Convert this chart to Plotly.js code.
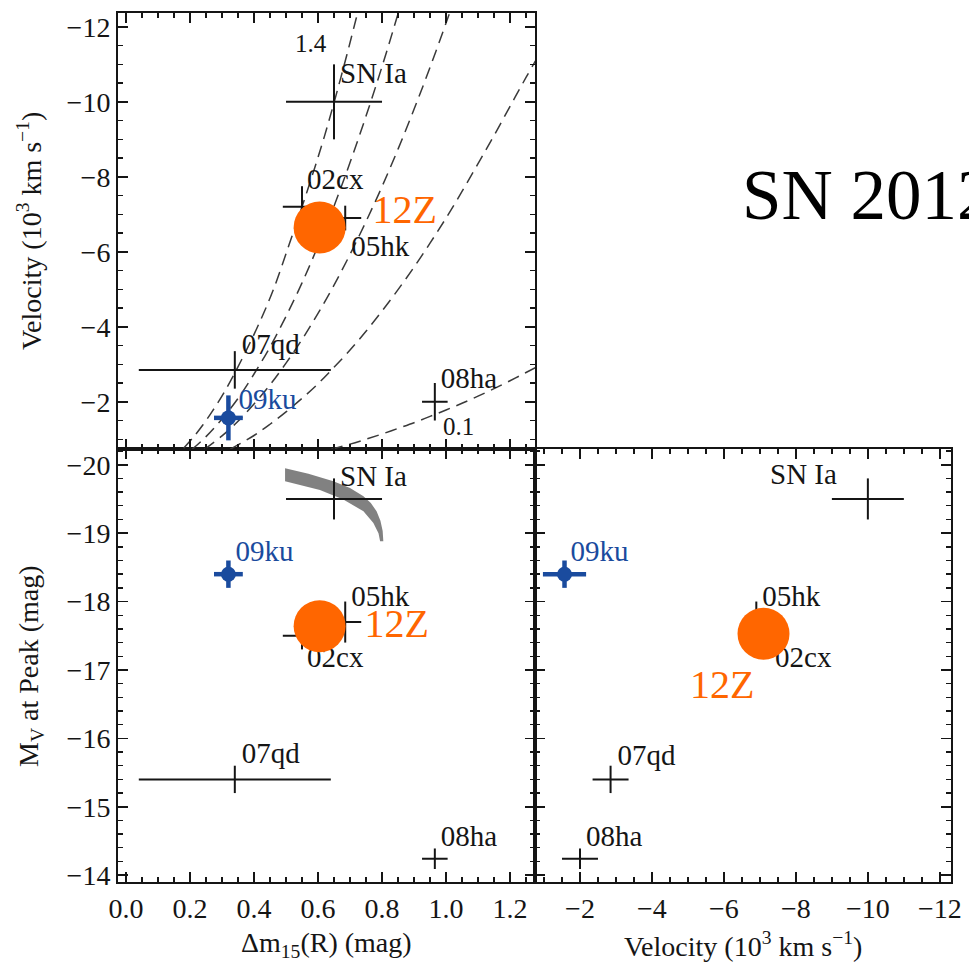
<!DOCTYPE html>
<html>
<head>
<meta charset="utf-8">
<script src="https://cdn.plot.ly/plotly-3.0.1.min.js"></script>
<style>
html, body { margin: 0; padding: 0; background: #ffffff; }
#chart { width: 969px; height: 963px; }
</style>
</head>
<body>
<div id="chart"></div>
<script>
// ---------------- data ----------------
// comparison objects (black crosses)
const snNames     = ['SN Ia', '02cx', '05hk', '07qd', '08ha'];
const dm15        = [0.65, 0.55, 0.685, 0.34, 0.965];
const dm15Err     = [0.15, 0.06, 0.05, 0.30, 0.04];
const velocity    = [-10.0, -7.2, -6.9, -2.85, -2.0];
const velocityErr = [1.0, 0.55, 0.33, 0.5, 0.5];
const peakMV      = [-19.5, -17.5, -17.7, -15.4, -14.24];
const peakMVErr   = [0.3, 0.2, 0.3, 0.2, 0.15];

// SN 2009ku (blue)
const ku09Name = ['09ku'];
const ku09Dm15 = [0.32];
const ku09Dm15Err = [0.045];
const ku09Velocity = [-1.57];
const ku09VelocityErr = [0.6];
const ku09PeakMV = [-18.4];
const ku09PeakMVErr = [0.2];

// SN 2012Z (orange circle, as placed in each panel)
const z12Name = ['12Z'];
const z12Dm15 = [0.605];
const z12VelocityTop = [-6.65];
const z12PeakMVLeft = [-17.64];
const z12VelocityRight = [-7.1];
const z12PeakMVRight = [-17.53];

// model curves, labelled by ejecta mass
const curve14Dm15 = [0.18, 0.21, 0.24, 0.27, 0.31, 0.36, 0.41, 0.46, 0.51, 0.55, 0.59, 0.62, 0.65, 0.69, 0.72, 0.735];
const curve14Vel  = [-0.76, -1.05, -1.38, -1.75, -2.3, -3.1, -3.98, -4.98, -6.2, -7.2, -8.25, -9.08, -9.98, -11.25, -12.25, -12.75];
const curve10Dm15 = [0.205, 0.25, 0.30, 0.35, 0.40, 0.45, 0.50, 0.55, 0.60, 0.65, 0.70, 0.75, 0.80, 0.85, 0.87];
const curve10Vel  = [-0.72, -1.07, -1.54, -2.09, -2.74, -3.46, -4.28, -5.17, -6.16, -7.22, -8.38, -9.62, -10.94, -12.35, -12.94];
const curve07Dm15 = [0.245, 0.30, 0.35, 0.40, 0.45, 0.50, 0.55, 0.60, 0.65, 0.70, 0.75, 0.80, 0.85, 0.90, 0.95, 1.00, 1.03];
const curve07Vel  = [-0.73, -1.09, -1.48, -1.94, -2.45, -3.03, -3.66, -4.36, -5.11, -5.93, -6.81, -7.74, -8.74, -9.80, -10.92, -12.10, -12.84];
const curve04Dm15 = [0.325, 0.40, 0.45, 0.50, 0.55, 0.60, 0.65, 0.70, 0.75, 0.80, 0.85, 0.90, 0.95, 1.00, 1.05, 1.10, 1.15, 1.20, 1.25, 1.29];
const curve04Vel  = [-0.73, -1.10, -1.40, -1.73, -2.09, -2.48, -2.92, -3.38, -3.88, -4.42, -4.99, -5.59, -6.23, -6.90, -7.61, -8.35, -9.10, -9.88, -10.65, -11.25];
const curve01Dm15 = [0.64, 0.70, 0.75, 0.80, 0.85, 0.90, 0.95, 1.00, 1.05, 1.10, 1.15, 1.20, 1.25, 1.29];
const curve01Vel  = [-0.73, -0.87, -1.00, -1.14, -1.29, -1.44, -1.61, -1.78, -1.96, -2.15, -2.35, -2.56, -2.78, -2.96];

// SN Ia width-luminosity band (grey)
const bandUpperDm15 = [0.497, 0.57, 0.648, 0.70, 0.742, 0.765, 0.783, 0.795, 0.802, 0.804];
const bandUpperMV   = [-19.95, -19.87, -19.76, -19.66, -19.54, -19.44, -19.32, -19.18, -19.03, -18.88];
const bandLowerDm15 = [0.497, 0.606, 0.679, 0.742, 0.773, 0.789, 0.794];
const bandLowerMV   = [-19.76, -19.63, -19.49, -19.32, -19.15, -19.0, -18.88];

// ---------------- geometry / style ----------------
const W = 969, H = 963;
const FONT = "'Liberation Serif', 'Times New Roman', Times, serif";
const INK = '#151515';
const BLUE = '#1a4b9e';
const ORANGE = '#ff6600';
const fx = p => p / W;
const fy = p => 1 - p / H;

const dmRange = [-0.025, 1.278];
const mvRange = [-13.9, -20.23];
const velRangeY = [-0.74, -12.37];
const velRangeX = [-0.75, -12.31];
const leftPx = [118, 535], rightPx = [535, 951];
const topPx = [13, 449], botPx = [449, 882];

const panels = {
  TL: {xa: 'x2', ya: 'y2', xr: dmRange, xl: leftPx[1] - leftPx[0], yr: velRangeY, yl: topPx[1] - topPx[0]},
  BL: {xa: 'x', ya: 'y', xr: dmRange, xl: leftPx[1] - leftPx[0], yr: mvRange, yl: botPx[1] - botPx[0]},
  BR: {xa: 'x3', ya: 'y3', xr: velRangeX, xl: rightPx[1] - rightPx[0], yr: mvRange, yl: botPx[1] - botPx[0]}
};

// label offsets in pixels (right, down) from each point
const offTL = {'SN Ia': [6, -26], '02cx': [5, -25], '05hk': [6, 31], '07qd': [7, -23], '08ha': [6, -21], '09ku': [10, -16], '12Z': [53, -14]};
const offBL = {'SN Ia': [6, -20], '02cx': [5, 24], '05hk': [6, -23], '07qd': [7, -24], '08ha': [6, -20], '09ku': [7, -20], '12Z': [45, 1]};
const offBR = {'SN Ia': [-31, -22], '02cx': [8, 24], '05hk': [6, -23], '07qd': [7, -22], '08ha': [6, -20], '09ku': [6, -20], '12Z': [-9, 54]};

function labelTrace(panel, xs, ys, names, offs, fontSize, color, posFn) {
  const P = panels[panel];
  const x = xs.map((v, i) => v + offs[names[i]][0] * (P.xr[1] - P.xr[0]) / P.xl);
  const y = ys.map((v, i) => v - offs[names[i]][1] * (P.yr[1] - P.yr[0]) / P.yl);
  return {
    type: 'scatter', mode: 'text', x: x, y: y, text: names,
    textposition: names.map(posFn),
    textfont: {family: FONT, size: fontSize, color: color},
    xaxis: P.xa, yaxis: P.ya, hoverinfo: 'skip', showlegend: false, cliponaxis: false
  };
}

function crossTrace(panel, xs, ys, ex, ey, color, thick) {
  const P = panels[panel];
  return {
    type: 'scatter', mode: 'markers', x: xs, y: ys,
    marker: {size: 1, color: 'rgba(0,0,0,0)'},
    error_x: {type: 'data', array: ex, visible: true, width: 0, thickness: thick, color: color},
    error_y: {type: 'data', array: ey, visible: true, width: 0, thickness: thick, color: color},
    xaxis: P.xa, yaxis: P.ya, hoverinfo: 'skip', showlegend: false
  };
}

function blobTrace(panel, xs, ys, ex, ey) {
  const P = panels[panel];
  return {
    type: 'scatter', mode: 'markers', x: xs, y: ys,
    marker: {size: 15, color: BLUE, symbol: 'circle', line: {width: 0}},
    error_x: {type: 'data', array: ex, visible: true, width: 0, thickness: 4.5, color: BLUE},
    error_y: {type: 'data', array: ey, visible: true, width: 0, thickness: 4.5, color: BLUE},
    xaxis: P.xa, yaxis: P.ya, hoverinfo: 'skip', showlegend: false
  };
}

function circleTrace(panel, xs, ys) {
  const P = panels[panel];
  return {
    type: 'scatter', mode: 'markers', x: xs, y: ys,
    marker: {size: 52, color: ORANGE, line: {width: 0}},
    xaxis: P.xa, yaxis: P.ya, hoverinfo: 'skip', showlegend: false
  };
}

const dashLine = {color: '#3a3a3a', width: 1.5, dash: '12px,7px', shape: 'spline'};
function curveTrace(xs, ys) {
  return {type: 'scatter', mode: 'lines', x: xs, y: ys, line: dashLine,
          xaxis: 'x2', yaxis: 'y2', hoverinfo: 'skip', showlegend: false};
}

const traces = [];
// model curves (top-left)
traces.push(curveTrace(curve14Dm15, curve14Vel));
traces.push(curveTrace(curve10Dm15, curve10Vel));
traces.push(curveTrace(curve07Dm15, curve07Vel));
traces.push(curveTrace(curve04Dm15, curve04Vel));
traces.push(curveTrace(curve01Dm15, curve01Vel));

// grey band (bottom-left)
traces.push({
  type: 'scatter', mode: 'lines',
  x: bandUpperDm15.concat(bandLowerDm15.slice().reverse()),
  y: bandUpperMV.concat(bandLowerMV.slice().reverse()),
  fill: 'toself', fillcolor: 'rgba(115,115,115,0.9)', line: {width: 0, color: 'rgba(0,0,0,0)'},
  xaxis: 'x', yaxis: 'y', hoverinfo: 'skip', showlegend: false
});

// crosses
traces.push(crossTrace('TL', dm15, velocity, dm15Err, velocityErr, INK, 2));
traces.push(crossTrace('BL', dm15, peakMV, dm15Err, peakMVErr, INK, 2));
traces.push(crossTrace('BR', velocity, peakMV, velocityErr, peakMVErr, INK, 2));

// 09ku
traces.push(blobTrace('TL', ku09Dm15, ku09Velocity, ku09Dm15Err, ku09VelocityErr));
traces.push(blobTrace('BL', ku09Dm15, ku09PeakMV, ku09Dm15Err, ku09PeakMVErr));
traces.push(blobTrace('BR', ku09Velocity, ku09PeakMV, ku09VelocityErr, ku09PeakMVErr));

// black labels
const posRight = () => 'middle right';
const posBR = n => (n === 'SN Ia' ? 'middle left' : 'middle right');
traces.push(labelTrace('TL', dm15, velocity, snNames, offTL, 29, INK, posRight));
traces.push(labelTrace('BL', dm15, peakMV, snNames, offBL, 29, INK, posRight));
traces.push(labelTrace('BR', velocity, peakMV, snNames, offBR, 29, INK, posBR));
// blue labels
traces.push(labelTrace('TL', ku09Dm15, ku09Velocity, ku09Name, offTL, 29, BLUE, posRight));
traces.push(labelTrace('BL', ku09Dm15, ku09PeakMV, ku09Name, offBL, 29, BLUE, posRight));
traces.push(labelTrace('BR', ku09Velocity, ku09PeakMV, ku09Name, offBR, 29, BLUE, posRight));

// 12Z circles and labels
traces.push(circleTrace('TL', z12Dm15, z12VelocityTop));
traces.push(circleTrace('BL', z12Dm15, z12PeakMVLeft));
traces.push(circleTrace('BR', z12VelocityRight, z12PeakMVRight));
traces.push(labelTrace('TL', z12Dm15, z12VelocityTop, z12Name, offTL, 40, ORANGE, posRight));
traces.push(labelTrace('BL', z12Dm15, z12PeakMVLeft, z12Name, offBL, 40, ORANGE, posRight));
traces.push(labelTrace('BR', z12VelocityRight, z12PeakMVRight, z12Name, offBR, 40, ORANGE, () => 'middle left'));

// ---------------- axes ----------------
function axis(extra) {
  return Object.assign({
    showline: true, linecolor: INK, linewidth: 2, mirror: 'allticks',
    ticks: 'inside', ticklen: 10, tickwidth: 1.6, tickcolor: INK,
    showgrid: false, zeroline: false, fixedrange: true,
    tickfont: {family: FONT, size: 28, color: INK},
    automargin: false
  }, extra);
}
const minorTicks = (d) => ({ticks: 'inside', ticklen: 5, tickwidth: 1.4, tickcolor: INK, dtick: d, tick0: 0, showgrid: false});

const titleFont = {family: FONT, size: 28, color: INK};

const layout = {
  width: W, height: H,
  font: {family: FONT, color: INK},
  margin: {l: 0, r: 0, t: 0, b: 0, pad: 0},
  paper_bgcolor: '#ffffff', plot_bgcolor: 'rgba(0,0,0,0)',
  showlegend: false,
  xaxis: axis({domain: [fx(leftPx[0]), fx(leftPx[1])], range: dmRange, anchor: 'y',
               tick0: 0, dtick: 0.2, tickformat: '.1f', minor: minorTicks(0.05)}),
  yaxis: axis({domain: [fy(botPx[1]), fy(botPx[0])], range: mvRange, anchor: 'x',
               tick0: 0, dtick: 1, minor: minorTicks(0.2)}),
  xaxis2: axis({domain: [fx(leftPx[0]), fx(leftPx[1])], range: dmRange, anchor: 'y2',
                tick0: 0, dtick: 0.2, showticklabels: false, minor: minorTicks(0.05)}),
  yaxis2: axis({domain: [fy(topPx[1]), fy(topPx[0])], range: velRangeY, anchor: 'x2',
                tick0: 0, dtick: 2, minor: minorTicks(0.5)}),
  xaxis3: axis({domain: [fx(rightPx[0]), fx(rightPx[1])], range: velRangeX, anchor: 'y3',
                tick0: 0, dtick: 2, minor: minorTicks(0.5)}),
  yaxis3: axis({domain: [fy(botPx[1]), fy(botPx[0])], range: mvRange, anchor: 'x3',
                tick0: 0, dtick: 1, showticklabels: false, minor: minorTicks(0.2)}),
  annotations: [
    {xref: 'paper', yref: 'paper', x: fx(29), y: fy(231), text: 'Velocity (10<sup>3</sup> km s<sup>\u22121</sup>)',
     textangle: -90, showarrow: false, xanchor: 'center', yanchor: 'middle', font: titleFont},
    {xref: 'paper', yref: 'paper', x: fx(30), y: fy(666), text: 'M<sub>V</sub> at Peak (mag)',
     textangle: -90, showarrow: false, xanchor: 'center', yanchor: 'middle', font: titleFont},
    {xref: 'paper', yref: 'paper', x: fx(326), y: fy(944), text: '\u0394m<sub>15</sub>(R) (mag)',
     showarrow: false, xanchor: 'center', yanchor: 'middle', font: titleFont},
    {xref: 'paper', yref: 'paper', x: fx(743), y: fy(944), text: 'Velocity (10<sup>3</sup> km s<sup>\u22121</sup>)',
     showarrow: false, xanchor: 'center', yanchor: 'middle', font: titleFont},
    {xref: 'x2', yref: 'y2', x: 0.579, y: -11.56, text: '1.4', showarrow: false,
     xanchor: 'center', yanchor: 'middle', font: {family: FONT, size: 25, color: INK}},
    {xref: 'x2', yref: 'y2', x: 1.04, y: -1.33, text: '0.1', showarrow: false,
     xanchor: 'center', yanchor: 'middle', font: {family: FONT, size: 25, color: INK}},
    {xref: 'paper', yref: 'paper', x: fx(740), y: fy(195), text: 'SN 2012Z', showarrow: false,
     xanchor: 'left', yanchor: 'middle', font: {family: FONT, size: 71, color: '#000000'}}
  ]
};

Plotly.newPlot('chart', traces, layout, {staticPlot: true, displayModeBar: false});
</script>
</body>
</html>
